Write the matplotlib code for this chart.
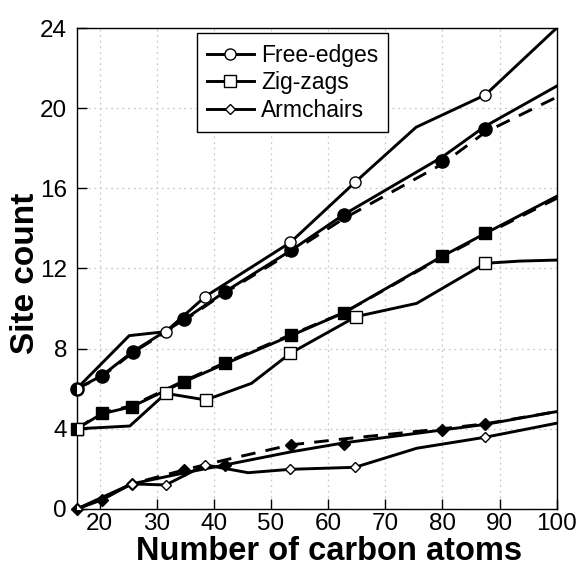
import matplotlib
matplotlib.use("Agg")
import matplotlib.pyplot as plt

plt.rcParams['font.family'] = ['Liberation Sans', 'DejaVu Sans']

# ---- data ----
# Free-edges
fe_open_x = [16, 25.2, 31.6, 38.5, 53.4, 64.7, 75.4, 87.5, 100]
fe_open_y = [6.0, 8.65, 8.85, 10.6, 13.3, 16.3, 19.05, 20.66, 24.0]
fe_open_mark = [0, 2, 3, 4, 5, 7]
fe_fit_x = [16, 20.4, 25.8, 34.8, 42, 53.5, 62.8, 79.9, 87.5, 100]
fe_fit_y = [6.0, 6.65, 7.85, 9.45, 10.85, 12.9, 14.7, 17.55, 19.1, 21.1]
fe_dash_y = [6.0, 6.6, 7.8, 9.4, 10.8, 12.8, 14.5, 17.2, 18.8, 20.55]
fe_fill_x = [16, 20.4, 25.8, 34.8, 42, 53.5, 62.8, 79.9, 87.5]
fe_fill_y = [6.0, 6.65, 7.85, 9.47, 10.85, 12.92, 14.67, 17.37, 18.96]

# Zig-zags
zz_open_x = [16, 25.3, 31.6, 38.6, 46.6, 53.4, 64.9, 75.5, 87.5, 93.6, 100]
zz_open_y = [4.0, 4.14, 5.77, 5.44, 6.27, 7.77, 9.6, 10.26, 12.26, 12.37, 12.42]
zz_open_mark = [0, 2, 3, 5, 6, 8]
zz_fit_x = [16, 20.4, 25.6, 34.8, 42, 53.5, 62.8, 79.9, 87.5, 100]
zz_fit_y = [4.0, 4.75, 5.1, 6.35, 7.25, 8.65, 9.8, 12.6, 13.75, 15.6]
zz_dash_y = [4.0, 4.8, 5.15, 6.4, 7.3, 8.7, 9.8, 12.55, 13.7, 15.5]
zz_fill_x = [16, 20.4, 25.6, 34.8, 42, 53.5, 62.8, 79.9, 87.5]
zz_fill_y = [4.0, 4.77, 5.1, 6.35, 7.27, 8.68, 9.8, 12.62, 13.76]

# Armchairs
ac_open_x = [16, 25.6, 31.6, 38.5, 46, 53.4, 64.7, 75.5, 87.5, 100]
ac_open_y = [0.0, 1.25, 1.2, 2.2, 1.81, 1.98, 2.08, 3.03, 3.58, 4.28]
ac_open_mark = [0, 1, 2, 3, 5, 6, 8]
ac_fit_x = [16, 20.4, 25.6, 34.8, 42, 53.5, 62.8, 79.9, 87.5, 100]
ac_fit_y = [0.0, 0.45, 1.25, 1.8, 2.2, 2.85, 3.3, 3.94, 4.22, 4.86]
ac_dash_y = [0.0, 0.5, 1.25, 1.95, 2.45, 3.2, 3.5, 4.0, 4.25, 4.86]
ac_fill_x = [16, 20.4, 25.6, 34.8, 42, 53.5, 62.8, 79.9, 87.5]
ac_fill_y = [0.0, 0.45, 1.25, 1.95, 2.2, 3.19, 3.24, 3.94, 4.22]

x_ticks = [20, 30, 40, 50, 60, 70, 80, 90, 100]
y_ticks = [0, 4, 8, 12, 16, 20, 24]

fig = plt.figure(figsize=(5.8, 5.68), dpi=100)
ax = fig.add_axes([0.1322, 0.1039, 0.8276, 0.8468])

lw = 2.1
series = [
    ("Free-edges", 'o', fe_open_x, fe_open_y, fe_open_mark, fe_fit_x, fe_fit_y, fe_dash_y, fe_fill_x, fe_fill_y, 8, 9.5),
    ("Zig-zags", 's', zz_open_x, zz_open_y, zz_open_mark, zz_fit_x, zz_fit_y, zz_dash_y, zz_fill_x, zz_fill_y, 8, 9),
    ("Armchairs", 'D', ac_open_x, ac_open_y, ac_open_mark, ac_fit_x, ac_fit_y, ac_dash_y, ac_fill_x, ac_fill_y, 5.5, 6.5),
]
for (lab, mk, ox, oy, om, fx, fy, dy, mx, my, ms_open, ms_fill) in series:
    ax.plot(fx, fy, '-', color='black', lw=lw, zorder=3)
    ax.plot(fx, dy, '--', color='black', lw=lw, dashes=(5, 3.5), zorder=3)
    ax.plot(mx, my, linestyle='none', marker=mk, ms=ms_fill, color='black',
            zorder=4, clip_on=False)
    ax.plot(ox, oy, '-', color='black', lw=lw, marker=mk, markevery=om,
            ms=ms_open, mfc='white', mec='black', mew=1.0, label=lab,
            zorder=5, clip_on=True)

ax.set_xlim(16, 100)
ax.set_ylim(0, 24)
ax.set_xticks(x_ticks)
ax.set_yticks(y_ticks)
ax.tick_params(direction='in', length=7, width=1, labelsize=17.5)
ax.tick_params(axis='x', pad=3)
ax.tick_params(axis='y', pad=7)
ax.grid(True, linestyle=(0, (1.5, 3)), color='#c8c8c8', linewidth=0.9)
for s in ax.spines.values():
    s.set_linewidth(1.0)

ax.set_xlabel("Number of carbon atoms", fontsize=23.5, fontweight='bold')
ax.xaxis.label.set_verticalalignment('baseline')
ax.xaxis.set_label_coords(0.526, -0.106)
ax.set_ylabel("Site count", fontsize=24, fontweight='bold')
ax.yaxis.label.set_verticalalignment('center')
ax.yaxis.set_label_coords(-0.106, 0.49)

leg = ax.legend(loc='upper left', bbox_to_anchor=(0.25, 0.989), fontsize=16.5,
                frameon=True, fancybox=False, edgecolor='black', framealpha=1,
                handlelength=2.05, borderaxespad=0, labelspacing=0.2,
                handletextpad=0.3, borderpad=0.45)
leg.get_frame().set_linewidth(1.0)

fig.savefig("out.png", dpi=100)
